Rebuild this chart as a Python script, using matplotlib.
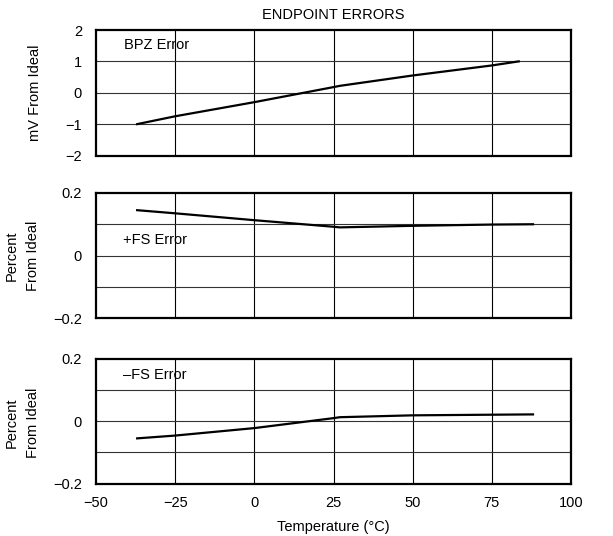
import matplotlib
matplotlib.use('Agg')
import matplotlib.pyplot as plt

plt.rcParams['font.family'] = ['Liberation Sans', 'DejaVu Sans']
plt.rcParams['font.size'] = 10.5

# temperature points (deg C)
temp_bpz = [-37, -25, 0, 25, 27, 50, 75, 83.5]
bpz_err = [-1.0, -0.75, -0.3, 0.18, 0.22, 0.55, 0.87, 1.0]

temp_pfs = [-37, -25, 0, 25, 27, 50, 75, 88]
pfs_err = [0.145, 0.135, 0.113, 0.092, 0.09, 0.095, 0.099, 0.1]

temp_nfs = [-37, -25, 0, 25, 27, 50, 75, 88]
nfs_err = [-0.055, -0.046, -0.022, 0.01, 0.013, 0.019, 0.021, 0.022]

x_ticks = [-50, -25, 0, 25, 50, 75, 100]
x_labels = ['\u221250', '\u221225', '0', '25', '50', '75', '100']

fig = plt.figure(figsize=(6.13, 5.36), dpi=100)
W, H = 613, 536
L, R = 96, 571
boxes = [(30, 155.5), (193, 318), (359, 483.5)]

axes = []
for (t, b) in boxes:
    ax = fig.add_axes([L / W, 1 - b / H, (R - L) / W, (b - t) / H])
    axes.append(ax)


def style(ax, ylim, yticks, ylabels, grid_y):
    ax.set_xlim(-50, 100)
    ax.set_ylim(*ylim)
    ax.set_xticks(x_ticks)
    ax.set_yticks(yticks)
    ax.set_yticklabels(ylabels)
    for gx in x_ticks[1:-1]:
        ax.axvline(gx, color='black', lw=0.8, zorder=1)
    for gy in grid_y:
        ax.axhline(gy, color='#333333', lw=0.8, zorder=1)
    for s in ax.spines.values():
        s.set_linewidth(1.6)
    ax.tick_params(length=0, pad=10, labelsize=10.5)


# top panel
ax = axes[0]
style(ax, (-2, 2), [-2, -1, 0, 1, 2], ['\u22122', '\u22121', '0', '1', '2'], [-1, 0, 1])
ax.plot(temp_bpz, bpz_err, color='black', lw=1.6, zorder=3)
ax.text(-41, 1.52, 'BPZ Error', va='center', ha='left')
ax.set_ylabel('mV From Ideal')
ax.yaxis.set_label_coords(-0.114, 0.5)
ax.set_xticklabels([])
ax.set_title('ENDPOINT ERRORS', fontsize=10.5, pad=8)

# middle panel
ax = axes[1]
style(ax, (-0.2, 0.2), [-0.2, 0, 0.2], ['\u22120.2', '0', '0.2'], [-0.1, 0, 0.1])
ax.plot(temp_pfs, pfs_err, color='black', lw=1.6, zorder=3)
ax.text(-41.4, 0.05, '+FS Error', va='center', ha='left')
ax.set_ylabel('Percent\nFrom Ideal', linespacing=1.65)
ax.yaxis.set_label_coords(-0.118, 0.5)
ax.set_xticklabels([])

# bottom panel
ax = axes[2]
style(ax, (-0.2, 0.2), [-0.2, 0, 0.2], ['\u22120.2', '0', '0.2'], [-0.1, 0, 0.1])
ax.plot(temp_nfs, nfs_err, color='black', lw=1.6, zorder=3)
ax.text(-41.4, 0.149, '\u2013FS Error', va='center', ha='left')
ax.set_ylabel('Percent\nFrom Ideal', linespacing=1.65)
ax.yaxis.set_label_coords(-0.118, 0.49)
ax.set_xticklabels(x_labels)
ax.tick_params(axis='x', pad=9)
ax.set_xlabel('Temperature (\u00b0C)', labelpad=7)

fig.savefig('out.png', dpi=100)
